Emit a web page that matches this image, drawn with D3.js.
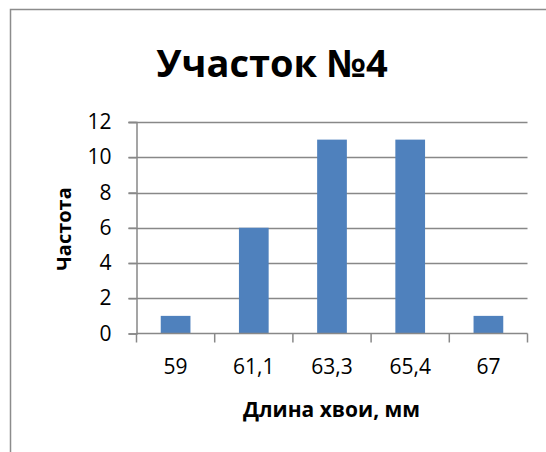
<!DOCTYPE html>
<html><head><meta charset="utf-8">
<script src="https://cdn.jsdelivr.net/npm/d3@7"></script>
<style>body{margin:0;background:#fff;} svg{display:block;}</style>
</head><body>
<script>
const categories = ["59", "61,1", "63,3", "65,4", "67"];
const values = [1, 6, 11, 11, 1];
const yTicks = [0, 2, 4, 6, 8, 10, 12];
const title = "Участок №4";
const xTitle = "Длина хвои, мм";
const yTitle = "Частота";

const W = 546, H = 452;
const svg = d3.select("body").append("svg").attr("width", W).attr("height", H);
const font = "'Open Sans', 'Noto Sans', sans-serif";

// chart border
svg.append("rect").attr("x", 10.5).attr("y", 9.5).attr("width", 560).attr("height", 460)
  .attr("fill", "#fff").attr("stroke", "#8c8c8c").attr("stroke-width", 1.5);

const pL = 136.5, pR = 527.5, pT = 122, pB = 333.5;
const x = d3.scaleBand().domain(categories).range([pL, pR]).paddingInner(0.62).paddingOuter(0.31);
const y = d3.scaleLinear().domain([0, 12]).range([pB, pT]);

// gridlines
svg.append("g").selectAll("line").data(yTicks.filter(d => d > 0)).join("line")
  .attr("x1", pL - 8).attr("x2", pR)
  .attr("y1", d => Math.round(y(d)) + 0.5).attr("y2", d => Math.round(y(d)) + 0.5)
  .attr("stroke", "#888").attr("stroke-width", 1.5);

// bars
svg.append("g").selectAll("rect").data(values).join("rect")
  .attr("x", (d, i) => x(categories[i])).attr("width", x.bandwidth())
  .attr("y", d => y(d)).attr("height", d => y(0) - y(d))
  .attr("fill", "#4f81bd");

// y axis
const yAxis = svg.append("g").attr("transform", `translate(${pL},0)`)
  .call(d3.axisLeft(y).tickValues(yTicks).tickSize(8).tickPadding(17));
yAxis.select(".domain").attr("stroke", "#888").attr("stroke-width", 1.5);
yAxis.selectAll(".tick line").attr("stroke", "#888").attr("stroke-width", 1.5);
yAxis.selectAll("text").attr("font-family", font).attr("font-size", 21).attr("fill", "#000");

// x axis
const step = (pR - pL) / categories.length;
const xAxis = svg.append("g").attr("transform", `translate(0,${pB})`)
  .call(d3.axisBottom(x).tickSize(0).tickPadding(26));
xAxis.select(".domain").attr("stroke", "#888").attr("stroke-width", 1.5).attr("d", `M${pL},0H${pR}`);
xAxis.selectAll("text").attr("font-family", font).attr("font-size", 21).attr("fill", "#000");
svg.append("g").selectAll("line").data(d3.range(categories.length + 1)).join("line")
  .attr("x1", i => pL + i * step).attr("x2", i => pL + i * step)
  .attr("y1", pB).attr("y2", pB + 9)
  .attr("stroke", "#888").attr("stroke-width", 1.5);

// titles
svg.append("text").attr("x", 272).attr("y", 77).attr("text-anchor", "middle")
  .attr("font-family", font).attr("font-weight", "bold").attr("font-size", 38).text(title);
svg.append("text").attr("x", 331.5).attr("y", 417).attr("text-anchor", "middle")
  .attr("font-family", font).attr("font-weight", "bold").attr("font-size", 21).text(xTitle);
svg.append("text").attr("transform", "translate(71,229) rotate(-90)").attr("text-anchor", "middle")
  .attr("font-family", font).attr("font-weight", "bold").attr("font-size", 20).text(yTitle);
</script>
</body></html>
